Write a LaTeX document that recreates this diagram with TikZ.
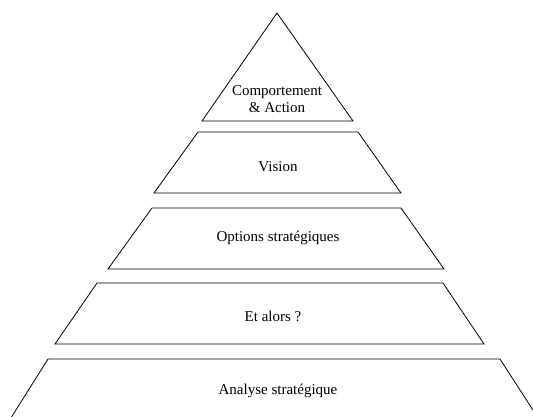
\documentclass[tikz,border=0pt]{standalone}
\usepackage{fontspec}
\setmainfont{Liberation Serif}
\usepackage{tikz}

\begin{document}
\begin{tikzpicture}[x=1pt, y=-1pt,
    tier/.style={draw=black, line width=0.8pt, line join=miter},
    lbl/.style={font=\fontsize{15}{17}\selectfont, align=center, inner sep=0pt}]
  \useasboundingbox (0,0) rectangle (533,416);
  \clip (0,0) rectangle (533,416);
  % pyramid, top to bottom
  \draw[tier] (277,13) -- (353,121) -- (202,121) -- cycle;
  \draw[tier] (198,132) -- (358,132) -- (401,193) -- (154,193) -- cycle;
  \draw[tier] (152,208) -- (401,208) -- (444,269) -- (108,269) -- cycle;
  \draw[tier] (97,283) -- (443,283) -- (484,344) -- (55,344) -- cycle;
  \draw[tier] (48,359) -- (500,359) -- (540,421) -- (9,421) -- cycle;
  % labels
  \node[lbl] (comp) at (277,99)  {Comportement\\\& Action};
  \node[lbl] (vis)  at (278,167) {Vision};
  \node[lbl] (opt)  at (278,238) {Options stratégiques};
  \node[lbl] (alors) at (273,316) {Et alors ?};
  \node[lbl] (ana)  at (278,391) {Analyse stratégique};
\end{tikzpicture}
\end{document}
